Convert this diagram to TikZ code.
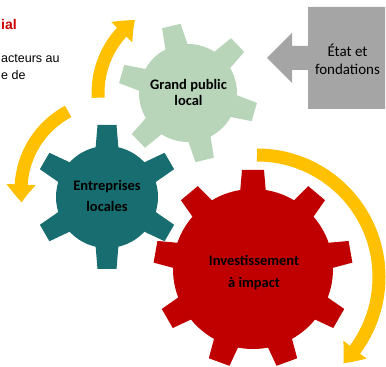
\documentclass[tikz,border=0pt]{standalone}
\usepackage{fontspec}
\setmainfont{Carlito}
\newfontfamily\calib{Carlito}
\newfontfamily\arialf{Liberation Sans}
\usetikzlibrary{arrows.meta,bending}
\definecolor{gGreen}{RGB}{184,213,185}
\definecolor{gTeal}{RGB}{23,109,111}
\definecolor{gRed}{RGB}{192,0,0}
\definecolor{gGray}{RGB}{165,165,165}
\definecolor{gGold}{RGB}{255,192,0}
\definecolor{tRed}{RGB}{204,0,0}
\tikzset{
  gtext/.style={align=center, text=black, inner sep=0pt},
  cyclearrow/.style={draw=gGold, line width=13pt, -{Triangle[width=28pt,length=18pt,bend]}},
  sidetext/.style={inner sep=0pt, anchor=base west, font=\arialf\fontsize{13}{15}\selectfont},
}
\begin{document}
\begin{tikzpicture}[x=1pt,y=1pt]
\useasboundingbox (0,0) rectangle (386,367);
% centres
\coordinate (cg) at (188,274);
\coordinate (ct) at (107,170);
\coordinate (cr) at (253,98);
\coordinate (a1c) at (188,274);
\coordinate (a2c) at (110,177);
\coordinate (a3c) at (257,90);
% green gear
\begin{scope}[shift={(cg)}]
  \fill[gGreen] (0,0) circle[radius=49pt];
  \foreach \a in {44,104,164,224,284,344}
    \fill[gGreen, rotate=\a] (40,-12) -- (69,-9.5) -- (69,9.5) -- (40,12) -- cycle;
\end{scope}
% teal gear
\begin{scope}[shift={(ct)}]
  \fill[gTeal] (0,0) circle[radius=51pt];
  \foreach \a in {30,90,150,210,270,330}
    \fill[gTeal, rotate=\a] (42,-12) -- (72,-9.5) -- (72,9.5) -- (42,12) -- cycle;
\end{scope}
% red gear
\begin{scope}[shift={(cr)}]
  \fill[gRed] (0,0) circle[radius=80pt];
  \foreach \a in {10,50,90,130,170,210,250,290,330}
    \fill[gRed, rotate=\a] (70,-13.5) -- (99,-11) -- (99,11) -- (70,13.5) -- cycle;
\end{scope}
% gear labels
\node[gtext, font=\calib\bfseries\fontsize{14.5}{16}\selectfont] (grand) at (188.5,275) {Grand public\\local};
\node[gtext, font=\calib\bfseries\fontsize{14.5}{21}\selectfont] (entre) at (107,171) {Entreprises\\locales};
\node[gtext, font=\calib\bfseries\fontsize{14.5}{22}\selectfont] (invest) at (254,94.3) {Investissement\\à impact};
% grey block arrow
\fill[gGray] (385,360) -- (308,360) -- (308,321) -- (292,321) -- (292,334) -- (267,309)
  -- (292,284) -- (292,297) -- (308,297) -- (308,258) -- (385,258) -- cycle;
\node[gtext, font=\calib\fontsize{15}{18}\selectfont] (etat) at (347.5,307.8) {État et\\fondations};
% cycle arrows
\draw[cyclearrow] ([shift={(183:90pt)}]a1c) arc[start angle=183, end angle=126, radius=90pt];
\draw[cyclearrow] ([shift={(118:89pt)}]a2c) arc[start angle=118, end angle=188, radius=89pt];
\draw[cyclearrow] ([shift={(90:122pt)}]a3c) arc[start angle=90, end angle=-45, radius=122pt];
% side text
\node[sidetext, font=\arialf\bfseries\fontsize{14}{16}\selectfont, text=tRed] (t1) at (1,337) {ial};
\node[sidetext, font=\arialf\fontsize{12.5}{15}\selectfont] (t2) at (1,304) {acteurs au};
\node[sidetext, font=\arialf\fontsize{12.5}{15}\selectfont] (t3) at (1,287) {e de};
\end{tikzpicture}
\end{document}
